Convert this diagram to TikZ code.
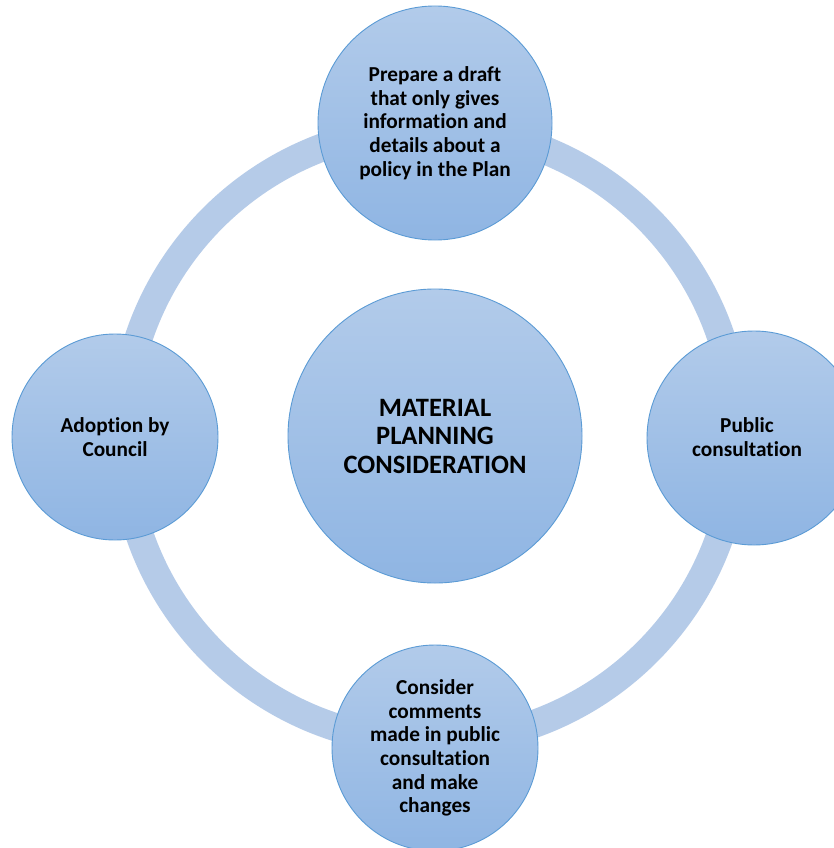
\documentclass[tikz,border=0pt]{standalone}
\usepackage{fontspec}
\setmainfont{Carlito}[Ligatures={NoCommon}]
\definecolor{ringblue}{RGB}{181,203,232}
\definecolor{circtop}{RGB}{178,203,234}
\definecolor{circbot}{RGB}{143,181,227}
\definecolor{circedge}{RGB}{91,155,213}
\tikzset{
  bubble/.style={circle, inner sep=0pt, draw=circedge, line width=0.9pt,
    top color=circtop, bottom color=circbot, align=center,
    font=\bfseries\fontsize{21.3}{23.7}\selectfont},
  bigbubble/.style={bubble, font=\bfseries\fontsize{26.5}{28.5}\selectfont},
  btext/.style={inner sep=0pt, align=center, font=\bfseries\fontsize{21.3}{23.7}\selectfont},
  ringline/.style={draw=ringblue, line width=28pt}
}
\begin{document}
\begin{tikzpicture}[x=1pt,y=-1pt]
\clip (0,0) rectangle (834,848);
\fill[white] (0,0) rectangle (834,848);
\coordinate (rc) at (430,435);
\draw[ringline] (rc) circle[radius=307];
\node[bigbubble, minimum size=294pt] (center) at (435,436) {MATERIAL\\PLANNING\\CONSIDERATION};
\node[bubble, minimum size=234pt] (top) at (435,123) {Prepare a draft\\that only gives\\information and\\details about a\\policy in the Plan};
\node[bubble, minimum size=214pt] (right) at (754,438) {};
\node[btext] (righttext) at (747,437) {Public\\consultation};
\node[bubble, minimum size=206pt] (bottom) at (435,748) {Consider\\comments\\made in public\\consultation\\and make\\changes};
\node[bubble, minimum size=206pt] (left) at (115,437) {Adoption by\\Council};
\end{tikzpicture}
\end{document}
